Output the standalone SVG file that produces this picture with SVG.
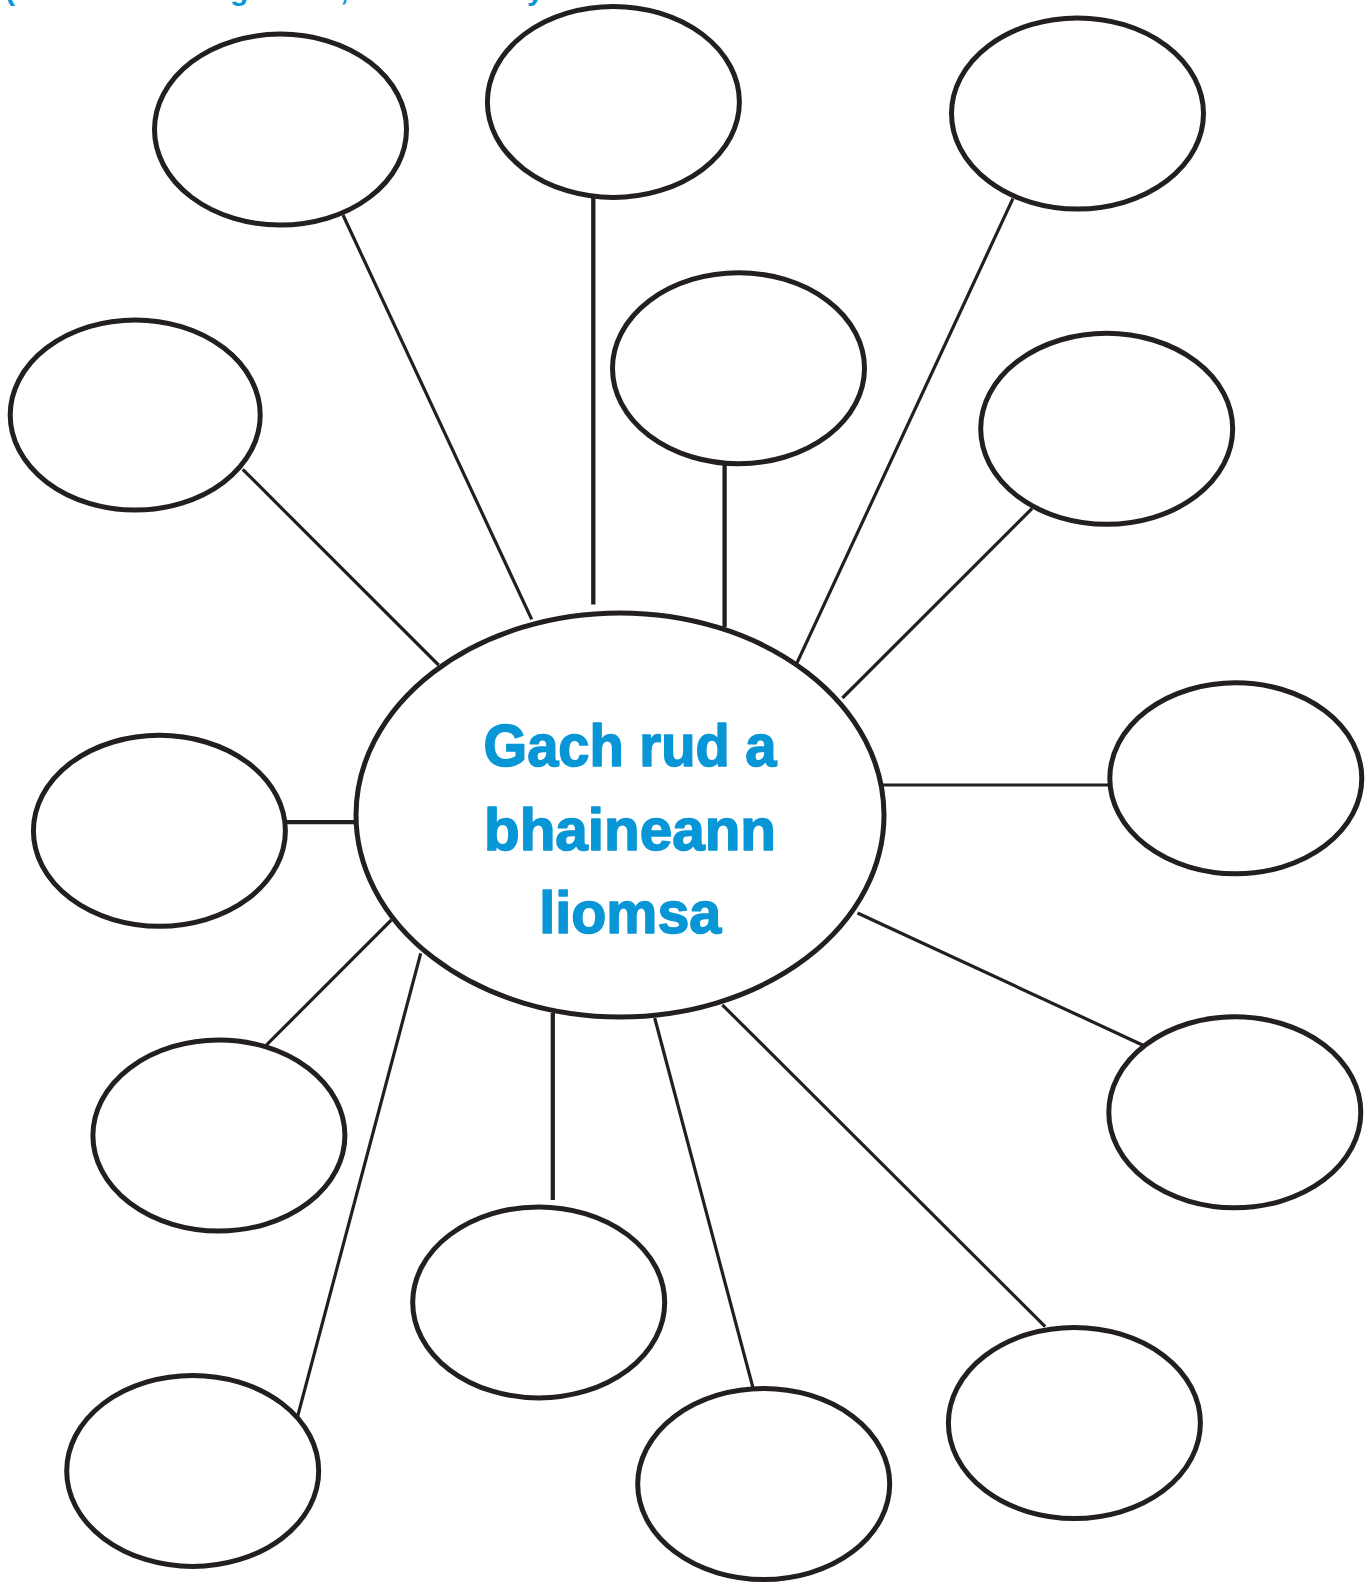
<svg xmlns="http://www.w3.org/2000/svg" width="1368" height="1582" viewBox="0 0 1368 1582">
<style>
.node{fill:#ffffff;stroke:#231f20;stroke-width:5}
.c line{stroke:#231f20;stroke-width:3.2}
.c .thick{stroke-width:4.3}
.title{font-family:"Liberation Sans",Arial,sans-serif;font-weight:bold;fill:#0996d7;stroke:#0996d7;stroke-width:1.6;stroke-linejoin:round;text-anchor:middle}
.frag{font-family:"Liberation Sans",Arial,sans-serif;font-weight:bold;fill:#0996d7;font-size:30px}
</style>
<rect width="1368" height="1582" fill="#ffffff"/>
<g id="header-fragment">
<text class="frag" x="5" y="0">(</text>
<text class="frag" x="230" y="0">g</text>
<text class="frag" x="340" y="0">,</text>
<text class="frag" x="527" y="0">y</text>
</g>
<g id="connectors" class="c">
<line x1="343" y1="215" x2="531.7" y2="619.4"/>
<line class="thick" x1="593.3" y1="198" x2="593.3" y2="604.5"/>
<line class="thick" x1="724.6" y1="464" x2="724.6" y2="627"/>
<line x1="1012.9" y1="198.7" x2="797" y2="662.8"/>
<line x1="1032" y1="508.5" x2="842.4" y2="698"/>
<line x1="881.7" y1="785" x2="1108.7" y2="785"/>
<line x1="857.5" y1="913" x2="1143" y2="1045.2"/>
<line x1="722.3" y1="1004.8" x2="1045.2" y2="1326.6"/>
<line x1="654.7" y1="1018" x2="753.6" y2="1390.2"/>
<line class="thick" x1="552.8" y1="1013" x2="552.8" y2="1200"/>
<line x1="420.7" y1="953.4" x2="297.6" y2="1416.4"/>
<line x1="391.4" y1="920" x2="266.3" y2="1045.2"/>
<line class="thick" x1="286.5" y1="822.2" x2="354.1" y2="822.2"/>
<line x1="242.7" y1="469.3" x2="438.6" y2="665"/>
</g>
<g id="center">
<ellipse class="node" cx="620" cy="815" rx="264" ry="202"/>
<text class="title" font-size="60" x="630" y="766" textLength="293" lengthAdjust="spacingAndGlyphs">Gach rud a</text>
<text class="title" font-size="60" x="630" y="849.5" textLength="292" lengthAdjust="spacingAndGlyphs">bhaineann</text>
<text class="title" font-size="60" x="630.3" y="933" textLength="182" lengthAdjust="spacingAndGlyphs">liomsa</text>
</g>
<g id="n1"><ellipse class="node" cx="280.5" cy="129.6" rx="126" ry="95.5"/></g>
<g id="n2"><ellipse class="node" cx="613.4" cy="101.9" rx="126" ry="95.5"/></g>
<g id="n3"><ellipse class="node" cx="1077.5" cy="113.5" rx="126" ry="95.5"/></g>
<g id="n4"><ellipse class="node" cx="135.2" cy="415" rx="125" ry="95"/></g>
<g id="n5"><ellipse class="node" cx="738.5" cy="368.2" rx="126" ry="95.5"/></g>
<g id="n6"><ellipse class="node" cx="1106.7" cy="428.8" rx="126" ry="95.5"/></g>
<g id="n7"><ellipse class="node" cx="1235.8" cy="778.3" rx="126" ry="95.5"/></g>
<g id="n8"><ellipse class="node" cx="159.4" cy="830.8" rx="126" ry="95.5"/></g>
<g id="n9"><ellipse class="node" cx="1234.8" cy="1112.3" rx="126" ry="95.5"/></g>
<g id="n10"><ellipse class="node" cx="218.9" cy="1135.5" rx="126" ry="95.5"/></g>
<g id="n11"><ellipse class="node" cx="538.7" cy="1302.4" rx="126" ry="95.5"/></g>
<g id="n12"><ellipse class="node" cx="1074.4" cy="1423" rx="126" ry="95.5"/></g>
<g id="n13"><ellipse class="node" cx="192.7" cy="1470.9" rx="126" ry="95.5"/></g>
<g id="n14"><ellipse class="node" cx="763.7" cy="1484" rx="126" ry="95.5"/></g>
</svg>
